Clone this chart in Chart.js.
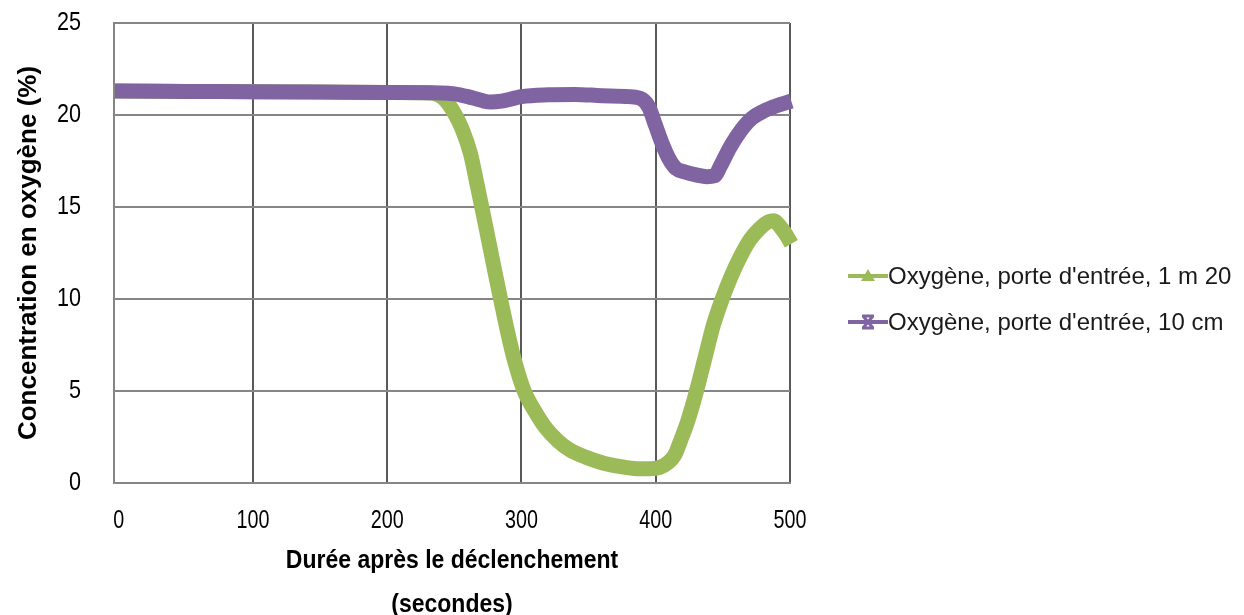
<!DOCTYPE html>
<html>
<head>
<meta charset="utf-8">
<script src="https://cdn.jsdelivr.net/npm/chart.js@4.4.1/dist/chart.umd.min.js"></script>
<style>
    html, body { margin: 0; padding: 0; background: #fff; }
    #wrap { position: relative; width: 1244px; height: 615px; }
    #legend { position: absolute; left: 848px; top: 253px; font-family: 'Liberation Sans', Arial, sans-serif; font-size: 24px; color: #1a1a1a; }
    .row { display: flex; align-items: center; height: 46px; white-space: nowrap; }
</style>
</head>
<body>
<div id="wrap">
    <canvas id="oxygen" width="1244" height="615"></canvas>
    <div id="legend"></div>
</div>
<script>
// readings, seconds after trigger -> O2 %
const greenTimes = [-3, 0, 50, 100, 150, 200, 232, 242, 250, 256, 262, 267, 271, 276, 281, 285, 290, 295, 302, 310, 318, 327, 336, 348, 360, 373, 386, 396, 403, 409, 414, 419, 424, 430, 437, 443, 449, 456, 463, 470, 477, 484, 488, 493, 497, 501];
const greenValues = [21.3, 21.3, 21.28, 21.27, 21.25, 21.22, 21.2, 20.9, 20.1, 19.2, 17.9, 16.2, 14.8, 13.0, 11.2, 9.8, 8.1, 6.6, 5.0, 3.9, 3.0, 2.3, 1.8, 1.4, 1.1, 0.9, 0.78, 0.78, 0.85, 1.1, 1.5, 2.4, 3.4, 4.9, 6.9, 8.6, 9.9, 11.2, 12.3, 13.2, 13.8, 14.2, 14.25, 13.9, 13.5, 13.0];

const purpleTimes = [-3, 0, 50, 100, 150, 200, 240, 250, 260, 270, 277, 285, 300, 320, 340, 360, 380, 390, 395, 400, 405, 410, 415, 422, 430, 438, 444, 448, 455, 460, 466, 472, 480, 490, 501];
const purpleValues = [21.3, 21.3, 21.28, 21.27, 21.25, 21.22, 21.2, 21.15, 21.0, 20.8, 20.7, 20.75, 21.0, 21.1, 21.12, 21.05, 21.0, 20.85, 20.4, 19.4, 18.4, 17.6, 17.1, 16.9, 16.75, 16.65, 16.7, 17.2, 18.2, 18.8, 19.4, 19.85, 20.2, 20.5, 20.75];

const xTicks = [0, 100, 200, 300, 400, 500];
const yTicks = [0, 5, 10, 15, 20, 25];
const seriesNames = ["Oxygène, porte d'entrée, 1 m 20", "Oxygène, porte d'entrée, 10 cm"];
const seriesColors = ['#9BBB59', '#8064A2'];
const seriesMarkers = ['triangle', 'star'];

function pairs(xs, ys) {
    return xs.map((x, i) => ({ x: x, y: ys[i] }));
}

const family = "'Liberation Sans', Arial, sans-serif";

// the original axis text is horizontally condensed; squeeze by font
function squeezeFor(font) {
    const bold = /bold|700/.test(font);
    const size = parseInt((font.match(/(\d+)px/) || [0, 0])[1], 10);
    if (!bold && size === 25) return 0.79;  // x ticks
    if (!bold && size === 26) return 0.83;  // y ticks
    if (bold && size === 25) return 0.92;   // x title
    return 1;
}

const canvas = document.getElementById('oxygen');
const ctx = canvas.getContext('2d');
const baseFill = ctx.fillText.bind(ctx);
ctx.fillText = function (text, x, y) {
    const k = squeezeFor(ctx.font);
    if (k === 1) return baseFill(text, x, y);
    ctx.save();
    ctx.translate(x, y);
    ctx.scale(k, 1);
    baseFill(text, 0, 0);
    ctx.restore();
};

const datasets = [
    {
        label: seriesNames[0],
        data: pairs(greenTimes, greenValues),
        borderColor: seriesColors[0],
        backgroundColor: seriesColors[0],
        borderWidth: 15,
        pointStyle: seriesMarkers[0],
        pointRadius: 0,
        cubicInterpolationMode: 'monotone',
        clip: false,
        order: 1
    },
    {
        label: seriesNames[1],
        data: pairs(purpleTimes, purpleValues),
        borderColor: seriesColors[1],
        backgroundColor: seriesColors[1],
        borderWidth: 15,
        pointStyle: seriesMarkers[1],
        pointRadius: 0,
        cubicInterpolationMode: 'monotone',
        clip: false,
        order: 0
    }
];

const chart = new Chart(ctx, {
    type: 'line',
    data: { datasets: datasets },
    options: {
        responsive: false,
        animation: false,
        layout: { padding: { top: 23, right: 454, left: 0, bottom: 0 } },
        plugins: { legend: { display: false }, tooltip: { enabled: false } },
        scales: {
            x: {
                type: 'linear',
                min: -3.5,
                max: 500,
                afterBuildTicks: s => { s.ticks = xTicks.map(v => ({ value: v })); },
                afterFit: s => { s.height = 132; s.paddingLeft = 0; s.paddingRight = 0; },
                grid: {
                    color: c => (c.tick && c.tick.value === 0) ? 'rgba(0,0,0,0)' : '#595959',
                    lineWidth: 2,
                    drawTicks: false
                },
                border: { color: '#868686', width: 2 },
                ticks: { padding: 23, maxRotation: 0, color: '#000', font: { family: family, size: 25 } },
                title: {
                    display: true,
                    text: ['Durée après le déclenchement', '(secondes)'],
                    color: '#000',
                    font: { family: family, size: 25, weight: 'bold', lineHeight: 1.76 },
                    padding: { top: 0, bottom: -12 }
                }
            },
            y: {
                min: 0,
                max: 25,
                afterBuildTicks: s => { s.ticks = yTicks.map(v => ({ value: v })); },
                afterFit: s => { s.width = 114; s.paddingTop = 0; s.paddingBottom = 0; },
                grid: { color: '#868686', lineWidth: 2, drawTicks: false },
                border: { color: '#868686', width: 2 },
                ticks: { padding: 33, color: '#000', font: { family: family, size: 26 } },
                title: {
                    display: true,
                    text: 'Concentration en oxygène (%)',
                    color: '#000',
                    font: { family: family, size: 26, weight: 'bold' },
                    padding: { top: 13, bottom: 0 }
                }
            }
        }
    }
});

// legend: line + marker, then the label
function drawKey(cv, color, marker) {
    const g = cv.getContext('2d');
    g.strokeStyle = color;
    g.fillStyle = color;
    g.lineWidth = 4;
    g.beginPath();
    g.moveTo(0, 10);
    g.lineTo(40, 10);
    g.stroke();
    if (marker === 'triangle') {
        g.beginPath();
        g.moveTo(20, 3);
        g.lineTo(27, 15);
        g.lineTo(13, 15);
        g.closePath();
        g.fill();
    } else {
        g.lineWidth = 3;
        g.beginPath();
        g.moveTo(15, 4); g.lineTo(25, 16);
        g.moveTo(25, 4); g.lineTo(15, 16);
        g.moveTo(14, 4); g.lineTo(26, 4);
        g.moveTo(14, 16); g.lineTo(26, 16);
        g.stroke();
    }
}

const legend = document.getElementById('legend');
seriesNames.forEach((name, i) => {
    const row = document.createElement('div');
    row.className = 'row';
    const cv = document.createElement('canvas');
    cv.width = 40;
    cv.height = 20;
    drawKey(cv, seriesColors[i], seriesMarkers[i]);
    const span = document.createElement('span');
    span.textContent = name;
    row.appendChild(cv);
    row.appendChild(span);
    legend.appendChild(row);
});
</script>
</body>
</html>
